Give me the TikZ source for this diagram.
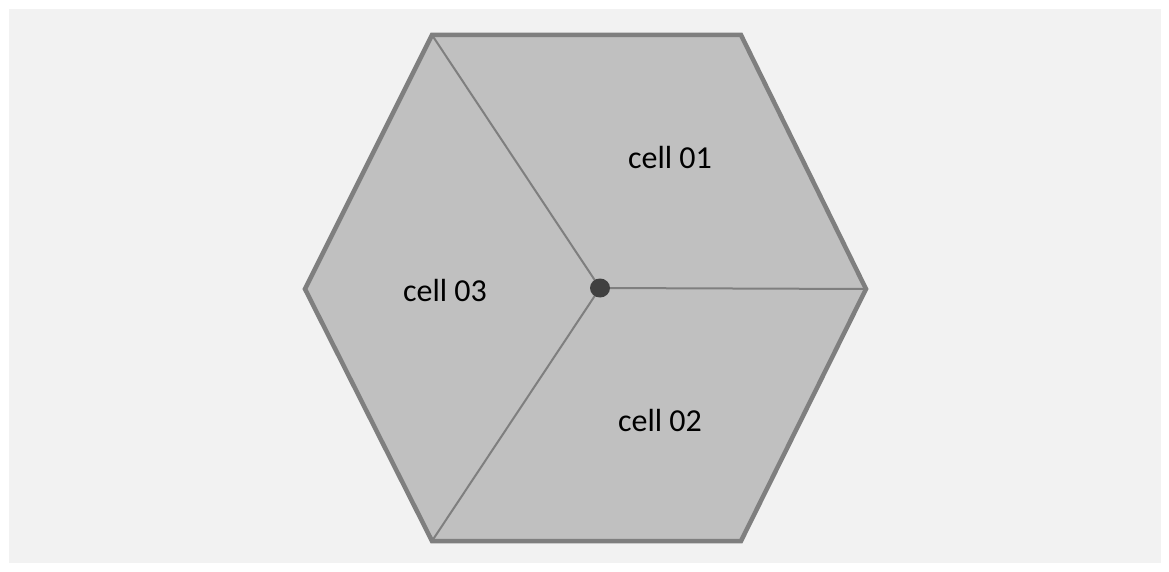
\documentclass[tikz,border=0pt]{standalone}
\usepackage{fontspec}
\setmainfont{Carlito}
\definecolor{panel}{HTML}{F2F2F2}
\definecolor{cellfill}{HTML}{C0C0C0}
\definecolor{edge}{HTML}{7F7F7F}
\definecolor{dotcol}{HTML}{404040}
\tikzset{
  outline/.style={draw=edge, line width=4.5pt, line join=miter, fill=cellfill},
  divider/.style={draw=edge, line width=2pt},
  celllabel/.style={font=\fontsize{32}{38}\selectfont, text=black, inner sep=0pt}
}
\begin{document}
\begin{tikzpicture}[x=1pt, y=-1pt]
  \useasboundingbox (0,0) rectangle (1169,572);
  \fill[white] (0,0) rectangle (1169,572);
  \fill[panel] (9,9) rectangle (1161,563);
  % hexagon corners
  \coordinate (tl) at (432,35);
  \coordinate (tr) at (741,35);
  \coordinate (r)  at (866,289);
  \coordinate (br) at (741,541);
  \coordinate (bl) at (432,541);
  \coordinate (l)  at (305,289);
  \coordinate (c)  at (600,288);
  \path[outline] (tl) -- (tr) -- (r) -- (br) -- (bl) -- (l) -- cycle;
  \draw[divider] (c) -- (tl);
  \draw[divider] (c) -- (r);
  \draw[divider] (c) -- (bl);
  \fill[dotcol] (c) ellipse [x radius=10, y radius=9.5];
  \node[celllabel] (c1) at (670,157) {cell 01};
  \node[celllabel] (c3) at (445,290) {cell 03};
  \node[celllabel] (c2) at (660,420) {cell 02};
\end{tikzpicture}
\end{document}
